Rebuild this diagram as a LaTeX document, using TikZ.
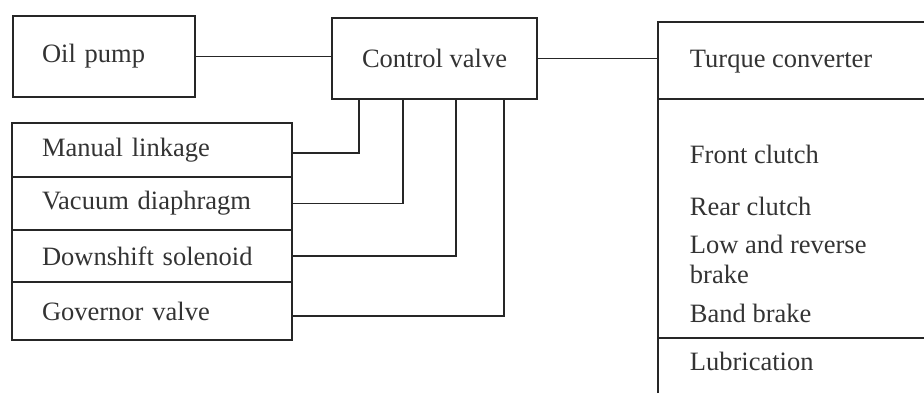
\documentclass[tikz,border=0pt]{standalone}
\usepackage{fontspec}
\setmainfont{Liberation Serif}
\usetikzlibrary{positioning}

\newcommand{\blockfont}{\fontsize{10.6}{12}\selectfont\color{black!80}}

\begin{document}
\begin{tikzpicture}[x=0.4pt, y=-0.4pt, line width=0.75pt, draw=black!85,
        box/.style={draw, rectangle, outer sep=0pt, minimum height=32.4pt, font=\blockfont},
        list/.style={draw, rectangle, outer sep=0pt, anchor=north west, text width=88pt,
            inner xsep=12pt, align=left, font=\blockfont},
        item/.style={anchor=base west, inner sep=0pt, font=\blockfont}]
        \useasboundingbox (0,0) rectangle (924,393);
        \node[box, anchor=north west, text width=49.6pt, inner xsep=11.6pt, align=left] (op) at (13,16) {Oil pump};
        \node[box, anchor=north west, minimum width=82pt] (cv) at (332,18) {Control valve};
        % input blocks
        \node[list, minimum height=21.6pt] (ml) at (12,123) {Manual linkage};
        \node[list, minimum height=21.2pt] (va) [below=0pt of ml.south west, anchor=north west] {Vacuum diaphragm};
        \node[list, minimum height=20.8pt] (ds) [below=0pt of va.south west, anchor=north west] {Downshift solenoid};
        \node[list, minimum height=23.2pt] (gv) [below=0pt of ds.south west, anchor=north west] {Governor valve};
        % output block
        \coordinate (rtop) at (658,22);
        \draw (658,393) -- (rtop) -- (924,22);
        \draw (658,99) -- (924,99);
        \draw (658,338) -- (924,338);
        \node[item] (tc) at (689,67) {Turque converter};
        \node[item] (fc) at (689,163) {Front clutch};
        \node[item] (rc) at (689,215) {Rear clutch};
        \node[item] (lr) at (689,253) {Low and reverse};
        \node[item] (lrb) at (689,283) {brake};
        \node[item] (bb) at (689,322) {Band brake};
        \node[item] (lu) at (689,370) {Lubrication};
        % connectors
        \draw (op.east) -- (op.east -| cv.west);
        \draw (cv.east) -- (cv.east -| rtop);
        \foreach \n/\x/\s in {ml/359/1.2pt, va/403/0pt, ds/456/0pt, gv/504/2pt}
            \draw (cv.south -| \x,0) |- ([yshift=-\s]\n.east);
\end{tikzpicture}
\end{document}
